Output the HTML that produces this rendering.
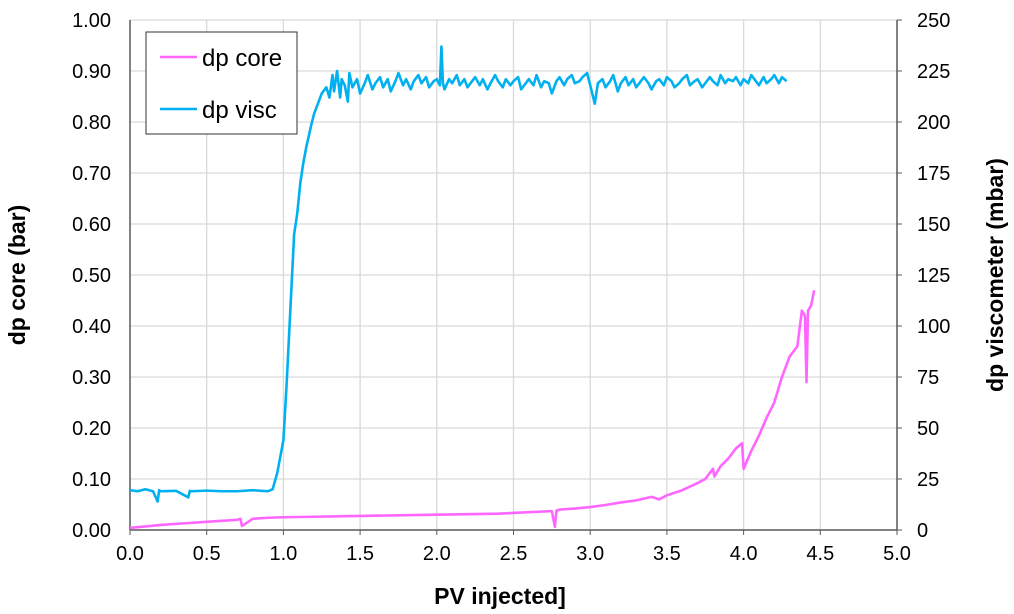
<!DOCTYPE html>
<html><head><meta charset="utf-8"><style>
html,body{margin:0;padding:0;background:#fff}
svg{display:block;font-family:"Liberation Sans",sans-serif}
</style></head><body>
<svg id="chart" width="1014" height="614" viewBox="0 0 1014 614"></svg>
<script>
const xTicks=[0,0.5,1,1.5,2,2.5,3,3.5,4,4.5,5];
const yLeftTicks=[0,0.1,0.2,0.3,0.4,0.5,0.6,0.7,0.8,0.9,1.0];
const yRightTicks=[0,25,50,75,100,125,150,175,200,225,250];
const viscPV=[0,0.05,0.1,0.15,0.18,0.19,0.2,0.3,0.38,0.39,0.4,0.5,0.6,0.7,0.8,0.9,0.93,0.96,0.98,1.0,1.02,1.04,1.06,1.07,1.09,1.11,1.13,1.15,1.18,1.2,1.23,1.25,1.28,1.3,1.32,1.33,1.35,1.37,1.38,1.4,1.42,1.43,1.45,1.48,1.5,1.53,1.55,1.58,1.6,1.63,1.65,1.68,1.7,1.73,1.75,1.78,1.8,1.83,1.85,1.88,1.9,1.93,1.95,1.98,2.0,2.02,2.03,2.04,2.05,2.08,2.1,2.13,2.15,2.18,2.2,2.23,2.25,2.28,2.3,2.33,2.35,2.38,2.4,2.43,2.45,2.48,2.5,2.53,2.55,2.58,2.6,2.63,2.65,2.68,2.7,2.73,2.75,2.78,2.8,2.83,2.85,2.88,2.9,2.93,2.95,2.98,3.0,3.03,3.05,3.08,3.1,3.13,3.15,3.18,3.2,3.23,3.25,3.28,3.3,3.33,3.35,3.38,3.4,3.43,3.45,3.48,3.5,3.53,3.55,3.58,3.6,3.63,3.65,3.68,3.7,3.73,3.75,3.78,3.8,3.83,3.85,3.88,3.9,3.93,3.95,3.98,4.0,4.03,4.05,4.08,4.1,4.13,4.15,4.18,4.2,4.23,4.25,4.28,4.3,4.32,4.33];
const viscVal=[19.5,19,20,19,14,19.5,19,19.2,16,19.2,19,19.3,19,19,19.5,19,20,28,36,44,70,100,130,145,155,170,180,188,198,204,210,214,217,212,223,215,225,212,221,218,210,224,217,221,214,219,223,216,219,222,217,221,215,220,224,218,221,216,220,223,219,222,217,220,221,218,237,219,216,221,219,223,218,221,217,220,222,218,221,216,219,223,220,217,221,218,220,222,216,219,221,218,223,217,220,219,214,220,222,218,221,223,219,220,222,224,218,209,219,221,217,220,223,215,219,222,218,221,217,220,222,219,216,220,221,218,222,220,217,219,221,223,218,220,221,217,219,222,220,218,223,219,221,220,222,218,221,219,223,220,218,222,219,221,223,219,222,220];
const corePV=[0,0.1,0.2,0.3,0.4,0.5,0.6,0.7,0.72,0.73,0.8,0.9,1.0,1.2,1.4,1.6,1.8,2.0,2.2,2.4,2.6,2.75,2.77,2.78,2.8,2.9,3.0,3.1,3.2,3.3,3.4,3.45,3.5,3.6,3.7,3.75,3.8,3.81,3.85,3.9,3.95,3.99,4.0,4.05,4.1,4.15,4.2,4.25,4.3,4.35,4.38,4.4,4.41,4.42,4.44,4.46];
const coreVal=[0.004,0.007,0.01,0.012,0.014,0.016,0.018,0.02,0.022,0.008,0.022,0.024,0.025,0.026,0.027,0.028,0.029,0.03,0.031,0.032,0.035,0.037,0.006,0.038,0.04,0.042,0.045,0.049,0.054,0.058,0.065,0.06,0.068,0.078,0.092,0.1,0.12,0.105,0.125,0.14,0.16,0.17,0.12,0.155,0.185,0.22,0.25,0.3,0.34,0.36,0.43,0.42,0.29,0.43,0.44,0.47];
const NS="http://www.w3.org/2000/svg";
const svg=document.getElementById('chart');
const X0=130,X1=897,Y0=530,Y1=20;
function sx(v){return X0+(v/5)*(X1-X0);}
function syL(v){return Y0-(v/1)*(Y0-Y1);}
function syR(v){return Y0-(v/250)*(Y0-Y1);}
function mk(tag,attrs,parent){const e=document.createElementNS(NS,tag);for(const k in attrs)e.setAttribute(k,attrs[k]);(parent||svg).appendChild(e);return e;}
const grid=mk('g',{});


xTicks.forEach(t=>{if(t>0&&t<5)mk('line',{x1:sx(t),x2:sx(t),y1:Y1,y2:Y0,stroke:'#d9d9d9','stroke-width':1.3},grid);});
yLeftTicks.forEach(t=>{if(t>0)mk('line',{x1:X0,x2:X1,y1:syL(t),y2:syL(t),stroke:'#d9d9d9','stroke-width':1.3},grid);});
const frame=mk('g',{});


mk('line',{x1:X0,x2:X0,y1:Y1,y2:Y0,stroke:'#595959','stroke-width':1.5},frame);
mk('line',{x1:X1,x2:X1,y1:Y1,y2:Y0,stroke:'#595959','stroke-width':1.5},frame);
mk('line',{x1:X0,x2:X1,y1:Y0,y2:Y0,stroke:'#595959','stroke-width':1.5},frame);
const xl=mk('g',{'font-size':20,'text-anchor':'middle',fill:'#000'});


xTicks.forEach(t=>{mk('line',{x1:sx(t),x2:sx(t),y1:Y0,y2:Y0+5,stroke:'#595959'},xl);const e=mk('text',{x:sx(t),y:Y0+30},xl);e.textContent=t.toFixed(1);});
const yl=mk('g',{'font-size':20,'text-anchor':'end',fill:'#000'});


yLeftTicks.forEach(t=>{const e=mk('text',{x:X0-19,y:syL(t)+7},yl);e.textContent=t.toFixed(2);});
const yr=mk('g',{'font-size':20,'text-anchor':'start',fill:'#000'});


yRightTicks.forEach(t=>{mk('line',{x1:X1,x2:X1+5,y1:syR(t),y2:syR(t),stroke:'#595959'},yr);const e=mk('text',{x:X1+20,y:syR(t)+7},yr);e.textContent=t;});
function poly(xs,ys,fy,color,name){const p=mk('polyline',{points:xs.map((x,i)=>sx(x)+','+fy(ys[i])).join(' '),fill:'none',stroke:color,'stroke-width':2.6,'stroke-linejoin':'round'});}
poly(corePV,coreVal,syL,'#ff66ff','series-dp-core');
poly(viscPV,viscVal,syR,'#00b0f0','series-dp-visc');
const t1=mk('text',{x:500,y:604,'font-size':23,'font-weight':'bold','text-anchor':'middle'});
t1.textContent='PV injected]';
const t2=mk('text',{transform:'translate(25,275) rotate(-90)','font-size':23,'font-weight':'bold','text-anchor':'middle'});
t2.textContent='dp core (bar)';
const t3=mk('text',{transform:'translate(1003,275) rotate(-90)','font-size':23,'font-weight':'bold','text-anchor':'middle'});
t3.textContent='dp viscometer (mbar)';
const lg=mk('g',{});

mk('rect',{x:146,y:32,width:151,height:102,fill:'#fff',stroke:'#333','stroke-width':1},lg);
const e1=mk('g',{},lg);
mk('line',{x1:160,x2:197,y1:57,y2:57,stroke:'#ff66ff','stroke-width':2.6},e1);
const l1=mk('text',{x:202,y:66,'font-size':24},e1);l1.textContent='dp core';
const e2=mk('g',{},lg);
mk('line',{x1:160,x2:197,y1:109,y2:109,stroke:'#00b0f0','stroke-width':2.6},e2);
const l2=mk('text',{x:202,y:118,'font-size':24},e2);l2.textContent='dp visc';
</script>
</body></html>
